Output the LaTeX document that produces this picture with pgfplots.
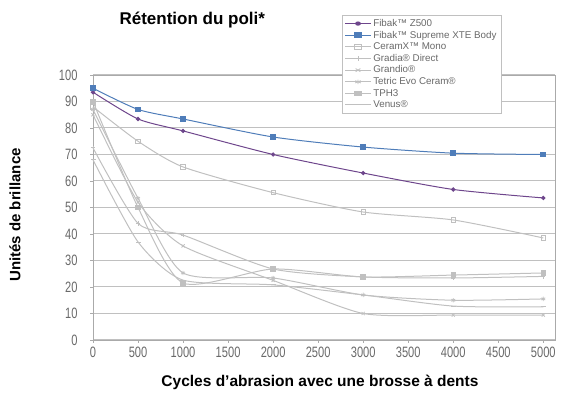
\documentclass[border=0pt]{standalone}
\usepackage{fontspec}
\setmainfont{Liberation Sans}
\newfontfamily\narrowfont{Liberation Sans}[FakeStretch=0.74]
\usepackage{pgfplots}
\pgfplotsset{compat=1.18}
\definecolor{zpurple}{RGB}{110,70,140}
\definecolor{xblue}{RGB}{79,125,185}
\definecolor{lgray}{RGB}{192,192,192}
\definecolor{mgray}{RGB}{170,170,170}
\definecolor{tgray}{RGB}{105,105,105}
\begin{document}
\begin{tikzpicture}
\path[use as bounding box] (0,0) rectangle (568pt,401pt);
\begin{axis}[
  at={(93pt,61pt)}, anchor=south west,
  scale only axis, width=462pt, height=265pt,
  xmin=0, xmax=5130, ymin=0, ymax=100,
  xtick={0,500,...,5000}, ytick={0,10,...,100},
  /pgf/number format/assume math mode=true,
  /pgf/number format/1000 sep={},
  tick label style={font=\narrowfont\fontsize{15}{15}\selectfont, text=tgray},
  yticklabel style={xshift=-9pt},
  ymajorgrids, grid style={lgray, line width=1pt},
  axis line style={mgray, line width=0.8pt},
  major tick style={mgray, line width=0.6pt},
  tick align=outside, major tick length=3pt,
  xtick pos=bottom, ytick pos=left,
  clip=false,
  legend style={at={(0.539,1.228)}, anchor=north west,
    draw=lgray, fill=white, font=\fontsize{9.8}{11.6}\selectfont, text=tgray,
    row sep=-0.9pt, inner sep=2.5pt},
  legend cell align=left,
  legend image post style={xscale=1.5},
  smooth, tension=0.4,
]
\addplot[zpurple, line width=1pt, mark=*, mark size=1.6pt] coordinates {(0,93.5)(500,83.4)(1000,78.9)(2000,70)(3000,63)(4000,56.8)(5000,53.6)};
\addlegendentry{Fibak™ Z500}
\addplot[xblue, line width=1pt, mark=square*, mark size=2.3pt] coordinates {(0,95)(500,87)(1000,83.4)(2000,76.6)(3000,72.8)(4000,70.5)(5000,70)};
\addlegendentry{Fibak™ Supreme XTE Body}
\addplot[lgray, line width=1pt, mark=square, mark size=2.2pt, mark options={line width=0.8pt}] coordinates {(0,88)(500,75)(1000,65.3)(2000,55.6)(3000,48.3)(4000,45.3)(5000,38.5)};
\addlegendentry{CeramX™ Mono}
\addplot[lgray, line width=1pt, mark=+, mark size=2.2pt, mark options={line width=0.8pt}] coordinates {(0,72.5)(500,44)(1000,39.6)(2000,26.8)(3000,23.8)(4000,23.4)(5000,24)};
\addlegendentry{Gradia® Direct}
\addplot[lgray, line width=1pt, mark=x, mark size=2.2pt, mark options={line width=0.8pt}] coordinates {(0,85)(500,52)(1000,35.5)(2000,22.5)(3000,10)(4000,9.4)(5000,9.4)};
\addlegendentry{Grandio®}
\addplot[lgray, line width=1pt, mark=asterisk, mark size=2.2pt, mark options={line width=0.8pt}] coordinates {(0,87)(500,53.5)(1000,25.3)(2000,23.4)(3000,17)(4000,15)(5000,15.5)};
\addlegendentry{Tetric Evo Ceram®}
\addplot[lgray, line width=1pt, mark=square*, mark size=2.2pt] coordinates {(0,90)(500,50)(1000,21.5)(2000,26.8)(3000,23.8)(4000,24.5)(5000,25.3)};
\addlegendentry{TPH3}
\addplot[lgray, line width=1pt, mark=-, mark size=2.5pt, mark options={line width=0.8pt}] coordinates {(0,68)(500,37)(1000,22.6)(2000,20.8)(3000,17)(4000,12.8)(5000,12.5)};
\addlegendentry{Venus®}
\end{axis}
\node[font=\bfseries\fontsize{17}{19}\selectfont, anchor=west] at (116pt,381pt) {Rétention du poli*};
\node[font=\bfseries\fontsize{15}{17}\selectfont, rotate=90] at (15pt,186pt) {Unités de brillance};
\node[font=\bfseries\fontsize{15.5}{17}\selectfont] at (320pt,19pt) {Cycles d’abrasion avec une brosse à dents};
\end{tikzpicture}
\end{document}
